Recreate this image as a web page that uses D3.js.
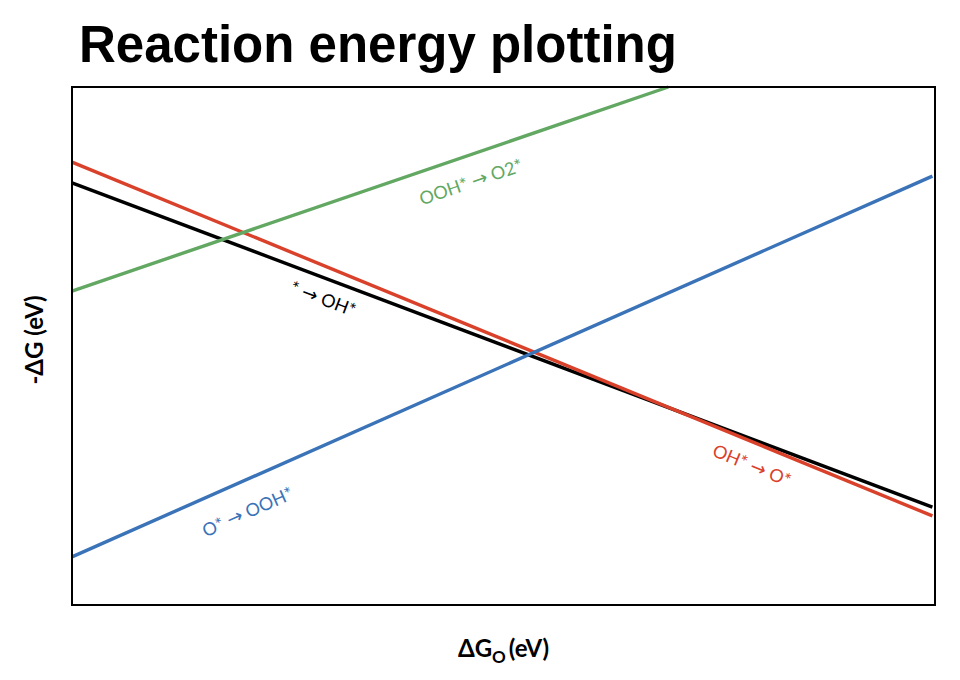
<!DOCTYPE html>
<html>
<head>
<meta charset="utf-8">
<title>Reaction energy plotting</title>
<script src="https://cdn.jsdelivr.net/npm/d3@7"></script>
<style>
	body, html { margin: 0; padding: 0; background: #fff; }
	svg text { font-family: Lato, "Open Sans", sans-serif; }
</style>
</head>
<body>
<svg id="chart" width="960" height="680"></svg>
<script>
// arbitrary units, no tick marks in the original
var steps = ["* \u2192 OH*", "OH* \u2192 O*", "O* \u2192 OOH*", "OOH* \u2192 O2*"];
var stepColors = ["#000000", "#d9412b", "#3a73b8", "#62a862"];
var startX = [0, 0, 0, 0];
var startY = [8.15, 8.55, 0.93, 6.06];
var endX = [9.97, 9.97, 9.97, 6.91];
var endY = [1.89, 1.72, 8.28, 10];
// where along each line its label sits (0..1)
var labelAt = [0.30, 0.80, 0.19, 0.655];

var svg = d3.select("#chart");
var margin = {left: 72, right: 25, top: 87, bottom: 75};
var W = 960, H = 680;

var x = d3.scaleLinear().domain([0, 10]).range([margin.left, W - margin.right]);
var y = d3.scaleLinear().domain([0, 10]).range([H - margin.bottom, margin.top]);

svg.append("text")
	.attr("x", 79).attr("y", 62)
	.style("font-family", "'Liberation Sans', Arial, sans-serif")
	.style("font-weight", "bold")
	.style("font-size", "51px")
	.text("Reaction energy plotting");

var lines = steps.map(function(s, i) {
	return {name: s, color: stepColors[i], x0: startX[i], y0: startY[i], x1: endX[i], y1: endY[i], t: labelAt[i]};
});

svg.selectAll("line.step")
	.data(lines)
  .enter().append("line")
	.attr("class", "step")
	.attr("x1", function(d) { return x(d.x0); })
	.attr("y1", function(d) { return y(d.y0); })
	.attr("x2", function(d) { return x(d.x1); })
	.attr("y2", function(d) { return y(d.y1); })
	.attr("stroke", function(d) { return d.color; })
	.attr("stroke-width", 3.4);

// labels sit just under each line, turned to its slope
var offsets = [20, 22, 30, 26];
var labels = svg.selectAll("text.step")
	.data(lines)
  .enter().append("text")
	.attr("class", "step")
	.attr("transform", function(d, i) {
		var px0 = x(d.x0), py0 = y(d.y0), px1 = x(d.x1), py1 = y(d.y1);
		var ang = Math.atan2(py1 - py0, px1 - px0);
		var cx = px0 + (px1 - px0) * d.t, cy = py0 + (py1 - py0) * d.t;
		cx += -Math.sin(ang) * offsets[i];
		cy += Math.cos(ang) * offsets[i];
		return "translate(" + cx + "," + cy + ") rotate(" + (ang * 180 / Math.PI) + ")";
	})
	.attr("text-anchor", "middle")
	.attr("dy", "0.35em")
	.attr("fill", function(d) { return d.color; })
	.style("font-size", "18px");

// split on the arrow so it can be drawn a bit heavier, like the original
labels.each(function(d) {
	var parts = d.name.split("\u2192");
	var t = d3.select(this);
	t.append("tspan").text(parts[0]);
	t.append("tspan").style("font-family", "'DejaVu Sans', sans-serif").style("font-size", "19px").text("\u2192");
	t.append("tspan").text(parts[1]);
});

// frame
svg.append("rect")
	.attr("x", x(0)).attr("y", y(10))
	.attr("width", x(10) - x(0)).attr("height", y(0) - y(10))
	.attr("fill", "none").attr("stroke", "#000").attr("stroke-width", 2);

var xl = svg.append("text")
	.attr("x", (x(0) + x(10)) / 2).attr("y", 657)
	.attr("text-anchor", "middle")
	.style("font-weight", "bold").style("font-size", "24px");
xl.append("tspan").text("\u0394G");
xl.append("tspan").attr("dy", 6).style("font-size", "17px").text("O");
xl.append("tspan").attr("dy", -6).attr("dx", 3).text("(eV)");

svg.append("text")
	.attr("transform", "translate(43,340) rotate(-90)")
	.attr("text-anchor", "middle")
	.style("font-weight", "bold").style("font-size", "24px")
	.text("-\u0394G (eV)");
</script>
</body>
</html>
